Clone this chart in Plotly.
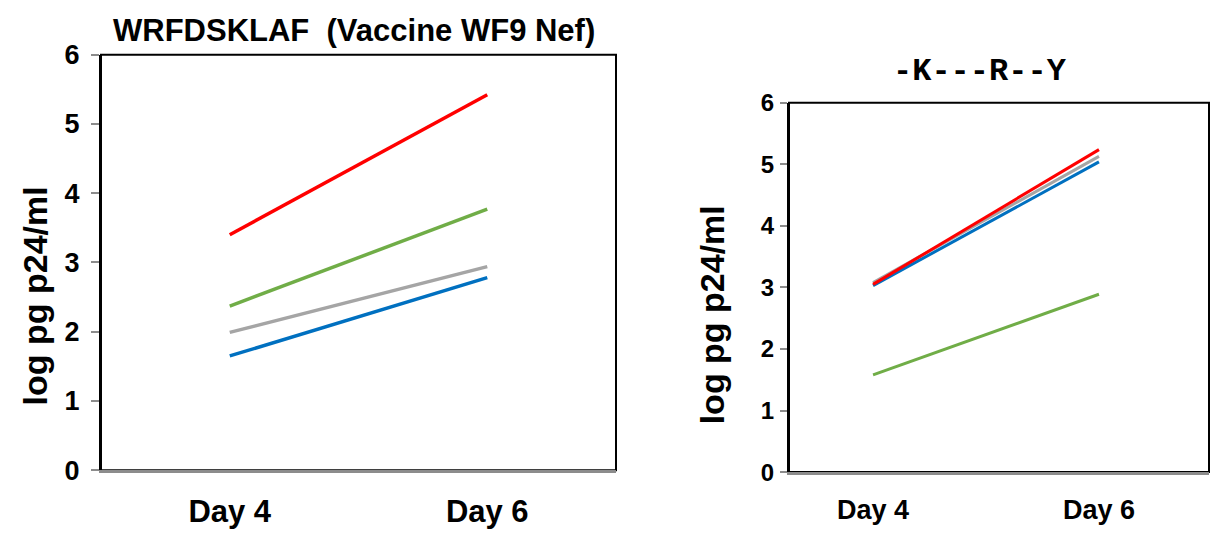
import plotly.graph_objects as go

days = ["Day 4", "Day 6"]
yticks = [0, 1, 2, 3, 4, 5, 6]

# log pg p24/ml, WRFDSKLAF (vaccine WF9 Nef)
wf9_red = [3.40, 5.42]
wf9_green = [2.37, 3.77]
wf9_grey = [1.99, 2.94]
wf9_blue = [1.65, 2.78]

# log pg p24/ml, -K---R--Y variant
kry_red = [3.05, 5.24]
kry_green = [1.58, 2.89]
kry_grey = [3.08, 5.13]
kry_blue = [3.03, 5.04]

colors = {"red": "#FF0000", "green": "#70AD47", "grey": "#A5A5A5", "blue": "#0070C0"}

fig = go.Figure()

left = [("green", wf9_green), ("grey", wf9_grey), ("blue", wf9_blue), ("red", wf9_red)]
right = [("green", kry_green), ("grey", kry_grey), ("blue", kry_blue), ("red", kry_red)]

for name, vals in left:
    fig.add_trace(go.Scatter(x=days, y=vals, mode="lines", xaxis="x", yaxis="y",
                             line=dict(color=colors[name], width=3.5), showlegend=False))
for name, vals in right:
    fig.add_trace(go.Scatter(x=days, y=vals, mode="lines", xaxis="x2", yaxis="y2",
                             line=dict(color=colors[name], width=3), showlegend=False))

W, H = 1215, 540


def py(p):
    """Convert a pixel row (from top) to a paper fraction."""
    return 1 - p / H


L_dom_x = [101 / W, 616 / W]
L_dom_y = [py(482), py(42)]
R_dom_x = [789 / W, 1209 / W]
R_dom_y = [py(484), py(93)]

sans = "Liberation Sans, Arial, sans-serif"


def xaxis_cfg(domain, anchor, size, rng):
    return dict(domain=domain, anchor=anchor, type="category", range=rng,
                showline=True, linecolor="#8C8C8C", linewidth=2.5, showgrid=False,
                zeroline=False, ticks="", ticklabelstandoff=12,
                tickfont=dict(family=sans, size=size, color="black", weight="bold"))


def yaxis_cfg(domain, anchor, size, ticklen, standoff):
    return dict(domain=domain, anchor=anchor, range=[0, 6], tickvals=yticks,
                showline=True, linecolor="black", linewidth=2, showgrid=False,
                zeroline=False, ticks="outside", ticklen=ticklen, tickwidth=2,
                tickcolor="#8C8C8C", ticklabelstandoff=standoff,
                tickfont=dict(family=sans, size=size, color="black", weight="bold"))


fig.update_layout(
    width=W, height=H,
    margin=dict(l=0, r=0, t=0, b=0),
    paper_bgcolor="white", plot_bgcolor="white",
    xaxis=xaxis_cfg(L_dom_x, "y", 31, [-0.5, 1.5]),
    yaxis=yaxis_cfg(L_dom_y, "x", 27, 8, 6),
    xaxis2=xaxis_cfg(R_dom_x, "y2", 27, [-0.372, 1.487]),
    yaxis2=yaxis_cfg(R_dom_y, "x2", 24, 7, 1),
)

# plot-area frames (bottom edge is the grey x axis line)
for xr, yr in (("x domain", "y domain"), ("x2 domain", "y2 domain")):
    fig.add_shape(type="rect", xref=xr, yref=yr, x0=0, x1=1, y0=0, y1=1,
                  line=dict(color="black", width=2), layer="below")

# titles
fig.add_annotation(text="WRFDSKLAF  (Vaccine WF9 Nef)", xref="paper", yref="paper",
                   x=354 / W, y=py(16), showarrow=False, xanchor="center", yanchor="middle",
                   font=dict(family=sans, size=31, color="black", weight="bold"))
fig.add_annotation(text="-K---R--Y", xref="paper", yref="paper",
                   x=980 / W, y=py(60), showarrow=False, xanchor="center", yanchor="middle",
                   font=dict(family="Liberation Mono, Courier New, monospace", size=32,
                             color="black", weight="bold"))

# y-axis titles
fig.add_annotation(text="log pg p24/ml", xref="paper", yref="paper",
                   x=35 / W, y=py(298), showarrow=False, textangle=-90,
                   xanchor="center", yanchor="middle",
                   font=dict(family=sans, size=34, color="black", weight="bold"))
fig.add_annotation(text="log pg p24/ml", xref="paper", yref="paper",
                   x=712 / W, y=py(318), showarrow=False, textangle=-90,
                   xanchor="center", yanchor="middle",
                   font=dict(family=sans, size=34, color="black", weight="bold"))

fig.write_html("out.html")
